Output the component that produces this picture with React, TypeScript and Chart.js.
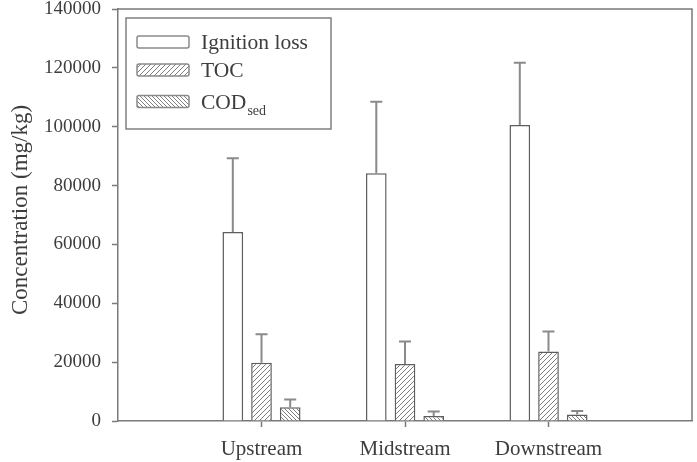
import React, { useEffect, useRef } from "react";
import { Chart, registerables } from "chart.js";

Chart.register(...registerables);

// Sampling sites
const categories = ["Upstream", "Midstream", "Downstream"];

// Mean concentrations (mg/kg) and standard deviations per site
const ignitionLoss = [64200, 84200, 100600];
const ignitionLossSd = [25100, 24300, 21100];
const toc = [19800, 19400, 23600];
const tocSd = [9700, 7600, 6800];
const codSed = [4700, 1700, 2200];
const codSedSd = [2600, 1500, 1200];

// Y axis range
const yMin = 0;
const yMax = 140000;
const yStep = 20000;
const yTitle = "Concentration (mg/kg)";

const SERIF = "'Liberation Serif', 'Times New Roman', serif";
const TEXT = "#3d3d3d";
const AXIS = "#7a7a7a";
const BAR_EDGE = "#5e5e5e";
const HATCH = "#7c7c7c";

function makeHatch(size: number, forward: boolean): CanvasPattern | string {
  const c = document.createElement("canvas");
  c.width = size;
  c.height = size;
  const g = c.getContext("2d");
  if (!g) return "#fff";
  g.fillStyle = "#ffffff";
  g.fillRect(0, 0, size, size);
  g.strokeStyle = HATCH;
  g.lineWidth = 1;
  g.beginPath();
  if (forward) {
    g.moveTo(0, size);
    g.lineTo(size, 0);
    g.moveTo(-size, size);
    g.lineTo(0, 0);
    g.moveTo(0, size * 2);
    g.lineTo(size * 2, 0);
  } else {
    g.moveTo(0, 0);
    g.lineTo(size, size);
    g.moveTo(-size, 0);
    g.lineTo(0, size);
    g.moveTo(size, 0);
    g.lineTo(size * 2, size);
  }
  g.stroke();
  const p = g.createPattern(c, "repeat");
  return p || "#fff";
}

// Upward error whiskers with a cap
const errorBarPlugin = {
  id: "errorBars",
  afterDatasetsDraw(chart: any) {
    const { ctx } = chart;
    const yScale = chart.scales.y;
    chart.data.datasets.forEach((ds: any, di: number) => {
      const meta = chart.getDatasetMeta(di);
      if (!ds.sd) return;
      meta.data.forEach((el: any, i: number) => {
        const v = ds.data[i];
        const sd = ds.sd[i];
        if (v == null || sd == null) return;
        const yTop = yScale.getPixelForValue(v + sd);
        const yBar = yScale.getPixelForValue(v);
        ctx.save();
        ctx.strokeStyle = "#8a8a8a";
        ctx.lineWidth = 2;
        ctx.beginPath();
        ctx.moveTo(el.x, yBar);
        ctx.lineTo(el.x, yTop);
        ctx.moveTo(el.x - 6, yTop);
        ctx.lineTo(el.x + 6, yTop);
        ctx.stroke();
        ctx.restore();
      });
    });
  },
};

// Closes the plot frame on the top and right sides, and writes the y title
const framePlugin = {
  id: "frame",
  afterDraw(chart: any) {
    const { ctx, chartArea: a } = chart;
    ctx.save();
    ctx.strokeStyle = AXIS;
    ctx.lineWidth = 1.5;
    ctx.beginPath();
    ctx.moveTo(a.left, a.top);
    ctx.lineTo(a.right, a.top);
    ctx.lineTo(a.right, a.bottom);
    ctx.stroke();

    ctx.translate(21, (a.top + a.bottom) / 2 - 5);
    ctx.rotate(-Math.PI / 2);
    ctx.fillStyle = TEXT;
    ctx.font = `23px ${SERIF}`;
    ctx.textAlign = "center";
    ctx.textBaseline = "middle";
    ctx.fillText(yTitle, 0, 0);
    ctx.restore();
  },
};

// Boxed legend with a subscripted COD label
const legendPlugin = {
  id: "boxLegend",
  afterDraw(chart: any) {
    const { ctx } = chart;
    const bx = 126, by = 18, bw = 205, bh = 111;
    ctx.save();
    ctx.fillStyle = "#ffffff";
    ctx.fillRect(bx, by, bw, bh);
    ctx.strokeStyle = "#808080";
    ctx.lineWidth = 1.5;
    ctx.strokeRect(bx, by, bw, bh);

    const rows = [42, 70, 101.5];
    chart.data.datasets.forEach((ds: any, i: number) => {
      const cy = rows[i];
      ctx.fillStyle = ds.backgroundColor;
      ctx.strokeStyle = "#8a8a8a";
      ctx.lineWidth = 1.5;
      ctx.beginPath();
      if ((ctx as any).roundRect) (ctx as any).roundRect(137, cy - 6, 52, 12, 2);
      else ctx.rect(137, cy - 6, 52, 12);
      ctx.fill();
      ctx.stroke();

      ctx.fillStyle = TEXT;
      ctx.textBaseline = "alphabetic";
      ctx.textAlign = "left";
      ctx.font = `21.5px ${SERIF}`;
      const base = cy + 7;
      ctx.fillText(ds.label, 201, base);
      if (ds.subLabel) {
        const w = ctx.measureText(ds.label).width;
        ctx.font = `14px ${SERIF}`;
        ctx.fillText(ds.subLabel, 201 + w + 1, base + 6);
      }
    });
    ctx.restore();
  },
};

export default function App() {
  const ref = useRef<HTMLCanvasElement>(null);

  useEffect(() => {
    document.body.style.margin = "0";
    if (!ref.current) return;
    const labels = ["", ...categories, ""];
    const pad = (a: number[]) => [null, ...a, null];
    const chart = new Chart(ref.current, {
      type: "bar",
      data: {
        labels,
        datasets: [
          {
            label: "Ignition loss",
            data: pad(ignitionLoss),
            sd: pad(ignitionLossSd),
            backgroundColor: "#ffffff",
            borderColor: BAR_EDGE,
            borderWidth: 1.5,
          } as any,
          {
            label: "TOC",
            data: pad(toc),
            sd: pad(tocSd),
            backgroundColor: makeHatch(5, true),
            borderColor: BAR_EDGE,
            borderWidth: 1.5,
          } as any,
          {
            label: "COD",
            subLabel: "sed",
            data: pad(codSed),
            sd: pad(codSedSd),
            backgroundColor: makeHatch(4, false),
            borderColor: BAR_EDGE,
            borderWidth: 1.5,
          } as any,
        ],
      },
      options: {
        animation: false,
        responsive: false,
        layout: { padding: { top: 9, right: 5, left: 0, bottom: 0 } },
        datasets: {
          bar: { categoryPercentage: 0.6, barPercentage: 0.72 },
        },
        plugins: {
          legend: { display: false },
          tooltip: { enabled: false },
        },
        scales: {
          x: {
            offset: false,
            grid: {
              offset: false,
              drawOnChartArea: false,
              drawTicks: true,
              tickLength: 6,
              tickWidth: 1.5,
              tickColor: (c: any) =>
                c.index === 0 || c.index === labels.length - 1 ? "rgba(0,0,0,0)" : AXIS,
            },
            border: { color: AXIS, width: 1.5 },
            ticks: {
              color: TEXT,
              font: { family: SERIF, size: 21 },
              padding: 10,
              maxRotation: 0,
              autoSkip: false,
            },
            afterFit: (s: any) => {
              s.height = 41;
              s.paddingLeft = 0;
              s.paddingRight = 0;
            },
          },
          y: {
            min: yMin,
            max: yMax,
            grid: {
              drawOnChartArea: false,
              drawTicks: true,
              tickLength: 6,
              tickWidth: 1.5,
              tickColor: AXIS,
            },
            border: { color: AXIS, width: 1.5 },
            ticks: {
              stepSize: yStep,
              color: TEXT,
              font: { family: SERIF, size: 19 },
              padding: 11,
              callback: (v: any) => String(v),
            },
            afterFit: (s: any) => {
              s.width = 118;
              s.paddingTop = 0;
              s.paddingBottom = 0;
            },
          },
        },
      },
      plugins: [errorBarPlugin, framePlugin, legendPlugin],
    });
    return () => chart.destroy();
  }, []);

  return (
    <div style={{ width: 697, height: 462 }}>
      <canvas ref={ref} width={697} height={462} style={{ display: "block" }} />
    </div>
  );
}
